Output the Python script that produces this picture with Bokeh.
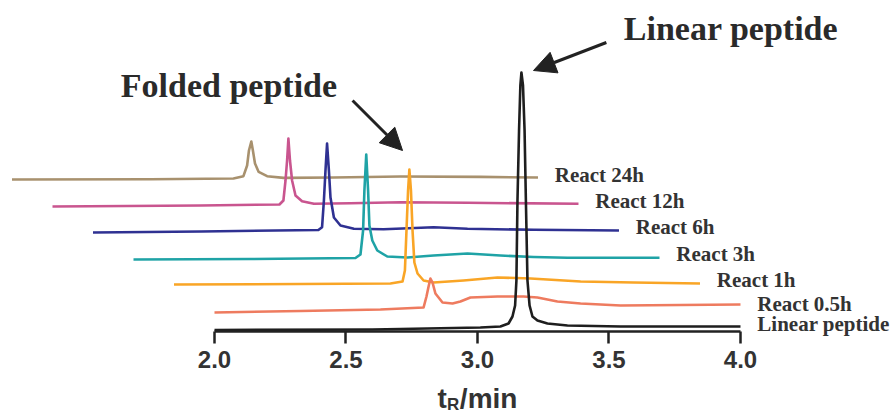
from bokeh.plotting import figure
from bokeh.models import Range1d, FixedTicker, Arrow, NormalHead
from bokeh.core.properties import value
from bokeh.embed import file_html
from bokeh.resources import INLINE

# ---------------- data (retention time in min, detector signal in arbitrary units) ----------------
linear_t = [2.000, 2.600, 2.707, 3.011, 3.087, 3.118, 3.133, 3.143, 3.148, 3.152, 3.158, 3.163, 3.167,
            3.173, 3.179, 3.184, 3.190, 3.198, 3.209, 3.228, 3.266, 3.342, 3.544, 4.000]
linear_s = [-2.5, -2, -1.5, 0, 1, 4, 11, 22, 47, 127, 197, 242, 255,
            242, 197, 127, 47, 22, 11, 7, 4, 2, 1, 1]

r05_t = [2.0, 2.327, 2.631, 2.795, 2.806, 2.814, 2.821, 2.829, 2.840, 2.867, 2.905, 2.935,
         2.973, 3.076, 3.175, 3.228, 3.304, 3.392, 3.544, 3.772, 4.0]
r05_s = [0, 1.5, 3, 5, 16, 26, 34, 30, 19, 10, 9, 11,
         15, 16, 16, 15, 11, 9, 7, 7.5, 8]

r1_t = [2.0, 2.481, 2.823, 2.869, 2.878, 2.884, 2.890, 2.895, 2.901, 2.907, 2.914, 2.926,
        2.949, 2.987, 3.101, 3.230, 3.356, 3.546, 3.747, 4.0]
r1_s = [0, 0.5, 1, 3, 14, 54, 94, 115, 94, 54, 22, 11,
        4, 2, 4, 7, 6, 3, 2, 1]

r3_t = [2.0, 2.445, 2.844, 2.863, 2.873, 2.878, 2.885, 2.892, 2.897, 2.908, 2.927, 2.965,
        3.041, 3.141, 3.270, 3.395, 3.521, 3.650, 4.0]
r3_s = [0, 0.5, 1.5, 5, 29, 69, 105, 69, 34, 19, 9, 3,
        2, 4, 6, 4, 2.5, 1.7, 1.7]

r6_t = [2.0, 2.411, 2.857, 2.871, 2.878, 2.884, 2.890, 2.897, 2.903, 2.916, 2.941, 2.992,
        3.105, 3.295, 3.424, 3.675, 4.0]
r6_s = [0, 1, 2.5, 5.3, 32, 62, 89, 62, 35, 15, 7, 3.7,
        3.3, 5.3, 3.7, 2.7, 2]

r12_t = [2.0, 2.563, 2.863, 2.878, 2.886, 2.892, 2.897, 2.903, 2.911, 2.924, 2.949, 2.994,
         3.133, 3.323, 3.578, 4.0]
r12_s = [0, 1, 2, 6, 26, 46, 68, 46, 26, 11, 5.3, 2.7,
         3.3, 4.3, 3.7, 2.7]

r24_t = [2.0, 2.527, 2.842, 2.880, 2.894, 2.901, 2.910, 2.916, 2.924, 2.938, 2.970, 3.033,
         3.222, 3.477, 3.781, 4.0]
r24_s = [0, 0.3, 1, 3.3, 14, 29, 38, 29, 16, 7.6, 3.3, 1.6,
         2, 3, 2.6, 2]

trace_names = ["Linear peptide", "React 0.5h", "React 1h", "React 3h",
               "React 6h", "React 12h", "React 24h"]
tick_values = [2.0, 2.5, 3.0, 3.5, 4.0]
tick_labels = ["2.0", "2.5", "3.0", "3.5", "4.0"]

# ---------------- styling / stacking offsets ----------------
traces = [(linear_t, linear_s), (r05_t, r05_s), (r1_t, r1_s), (r3_t, r3_s),
          (r6_t, r6_s), (r12_t, r12_s), (r24_t, r24_s)]
colors = ["#1e1e1e", "#ee7b5f", "#f9a526", "#1fa3a6", "#2f3192", "#c9558f", "#a8916e"]
x_shift = [0.0, 0.0, 0.154, 0.308, 0.462, 0.616, 0.770]
y_offset = [4, 19, 47, 72, 99, 125, 152]
label_dx = 0.064
label_dy = [3, 1, 4, 4, 4, 3, 3]

p = figure(width=894, height=414, output_backend="svg", toolbar_location=None,
           x_range=Range1d(1.1863, 4.5856), y_range=Range1d(-83, 331),
           min_border_left=0, min_border_right=0, min_border_top=0, min_border_bottom=0)
p.outline_line_color = None
p.xgrid.visible = False
p.ygrid.visible = False
p.yaxis.visible = False
p.background_fill_color = "white"
p.border_fill_color = "white"

ax = p.xaxis[0]
ax.fixed_location = 0
ax.bounds = (2.0, 4.0)
ax.ticker = FixedTicker(ticks=tick_values)
ax.major_label_overrides = {v: s for v, s in zip(tick_values, tick_labels)}
ax.minor_tick_line_color = None
ax.major_tick_in = 0
ax.major_tick_out = 12
ax.major_tick_line_width = 2.5
ax.major_tick_line_color = "#222222"
ax.axis_line_width = 2.5
ax.axis_line_color = "#222222"
ax.major_label_standoff = 7
ax.major_label_text_font = "Liberation Sans"
ax.major_label_text_font_style = "bold"
ax.major_label_text_font_size = "24px"
ax.major_label_text_color = "#333333"

# traces drawn back to front
for i in reversed(range(len(traces))):
    t, s = traces[i]
    xs = [v - x_shift[i] for v in t]
    ys = [v + y_offset[i] for v in s]
    p.line(xs, ys, line_color=colors[i], line_width=2.6, line_join="round")

# trace labels
lx, ly = [], []
for i, (t, s) in enumerate(traces):
    lx.append(t[-1] - x_shift[i] + label_dx)
    ly.append(s[-1] + y_offset[i] + label_dy[i])
p.text(x=lx, y=ly, text=trace_names, text_font=value("Liberation Serif"),
       text_font_style="bold", text_font_size="21px", text_color="#333333",
       text_baseline="middle", text_align="left")

# peak annotations
p.text(x=[2.055, 3.964], y=[246, 303.5], text=["Folded peptide", "Linear peptide"],
       text_font=value("Liberation Serif"), text_font_style="bold", text_font_size="34px",
       text_color="#2a2a2a", text_baseline="middle", text_align="center")
p.add_layout(Arrow(x_start=2.525, y_start=231, x_end=2.715, y_end=181, line_width=3,
                   line_color="#222222",
                   end=NormalHead(size=22, fill_color="#222222", line_color="#222222")))
p.add_layout(Arrow(x_start=3.490, y_start=289, x_end=3.213, y_end=261, line_width=3,
                   line_color="#222222",
                   end=NormalHead(size=22, fill_color="#222222", line_color="#222222")))

# axis title t_R/min
p.text(x=[2.848, 2.933], y=[-67, -67], text=["t", "/min"], text_font=value("Liberation Sans"),
       text_font_style="bold", text_font_size="28px", text_color="#333333",
       text_baseline="middle", text_align="left")
p.text(x=[2.884], y=[-73], text=["R"], text_font=value("Liberation Sans"),
       text_font_style="bold", text_font_size="17px", text_color="#333333",
       text_baseline="middle", text_align="left")

open("out.html", "w").write(file_html(p, INLINE))
